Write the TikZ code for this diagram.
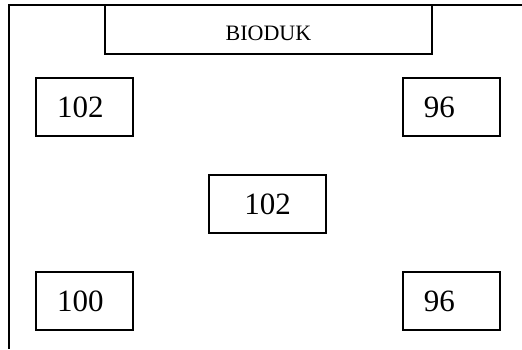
\documentclass[tikz,border=0pt]{standalone}
\usepackage{fontspec}
\setmainfont{Liberation Serif}
\usepackage{tikz}
\usetikzlibrary{positioning}
\tikzstyle{judulbox} = [rectangle, minimum width=327pt, minimum height=49pt, text height=22pt, text centered, draw=black, line width=1.2pt, font=\fontsize{22}{26}\selectfont]
\tikzstyle{angka} = [rectangle, minimum width=97pt, minimum height=58pt, inner xsep=21pt, text width=55pt, align=left, draw=black, line width=1.2pt, font=\fontsize{31}{36}\selectfont]
\tikzstyle{angkatengah} = [rectangle, minimum width=117pt, minimum height=58pt, text centered, draw=black, line width=1.2pt, font=\fontsize{31}{36}\selectfont]

\begin{document}
\begin{tikzpicture}
    \useasboundingbox (0pt,0pt) rectangle (522pt,-349pt);

    % Bingkai luar
    \coordinate (ujung) at (522pt,-5pt);
    \coordinate (sudut) at (9pt,-5pt);
    \coordinate (dasar) at (9pt,-349pt);
    \draw [line width=1.2pt] (ujung) -- (sudut) -- (dasar);

    % Judul
    \node (judul) [judulbox] at (268.5pt,-29.5pt) {BIODUK};

    % Kotak atas
    \node (kiriatas) [angka] at (84.5pt,-107pt) {102};
    \node (kananatas) [angka, right=268.7pt of kiriatas] {96};

    % Tengah
    \node (tengah) [angkatengah] at (267.5pt,-204pt) {102};

    % Kotak bawah
    \node (kiribawah) [angka, below=134.7pt of kiriatas] {100};
    \node (kananbawah) [angka, below=134.7pt of kananatas] {96};
\end{tikzpicture}
\end{document}
